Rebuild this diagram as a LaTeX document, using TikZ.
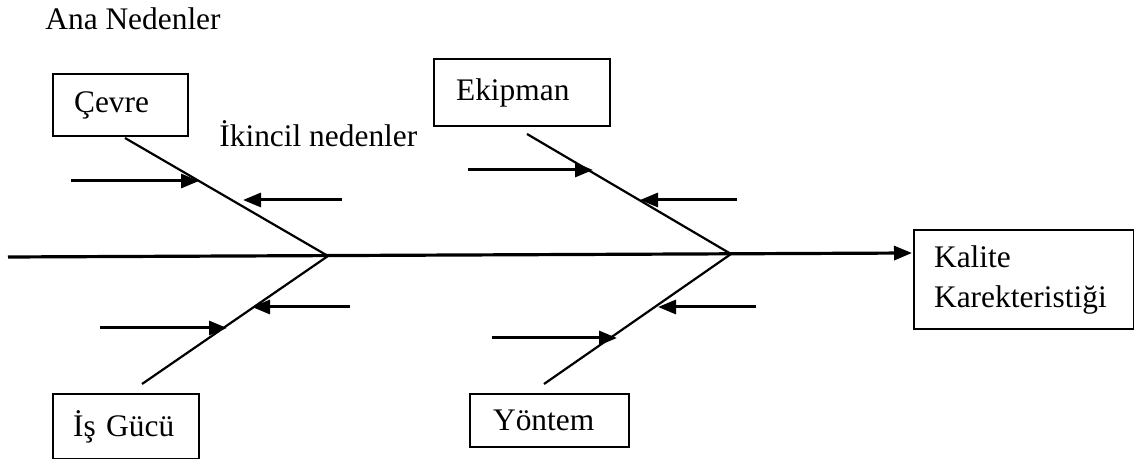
\documentclass[tikz,border=0pt]{standalone}
\usepackage{fontspec}
\setmainfont{Liberation Serif}
\usetikzlibrary{arrows.meta}
\begin{document}
\begin{tikzpicture}[x=0.5pt,y=-0.5pt,
  font=\fontsize{15.7}{20}\selectfont,
  causebox/.style={draw, line width=1.1pt, anchor=north west, align=left,
    inner ysep=0pt},
  bone/.style={line width=1.1pt},
  spine/.style={line width=1.6pt, -{Triangle[length=9pt,width=7pt]}},
  sub/.style={line width=1.5pt, -{Triangle[length=9pt,width=7pt]}},
  lbl/.style={anchor=base west, inner sep=0pt}]
\useasboundingbox (0,0) rectangle (1134,459);

% headings
\node[lbl] (ana) at (45,30) {Ana Nedenler};
\node[lbl] (ikincil) at (219,147) {İkincil nedenler};

% main cause boxes
\node[causebox, minimum width=67.5pt, minimum height=31pt, inner xsep=10.5pt,
  text width=46.5pt] (cevre) at (52,73) {Çevre};
\node[causebox, minimum width=88pt, minimum height=33.5pt, inner xsep=11pt,
  text width=66pt] (ekipman) at (433,58) {Ekipman};
\node[causebox, minimum width=73pt, minimum height=32.5pt, inner xsep=10pt,
  text width=53pt] (isgucu) at (52,393) {İş Gücü};
\node[causebox, minimum width=79.5pt, minimum height=26.5pt, inner xsep=11.5pt,
  text width=56.5pt] (yontem) at (469,393) {Yöntem};
\node[causebox, minimum width=110pt, minimum height=49.5pt, inner xsep=10pt,
  text width=90pt] (kalite) at (913,229) {Kalite\\Karekteristiği};

% spine
\coordinate (s0) at (8,257);
\coordinate (s1) at (912,253);
\draw[spine] (s0) -- (s1);

% branch end points
\coordinate (j1) at (328,256);
\coordinate (j2) at (731,254);
\coordinate (c1) at (125,138);
\coordinate (e1) at (527,134);
\coordinate (g1) at (142,384);
\coordinate (y1) at (544,384);

\draw[bone] (c1) -- (j1);
\draw[bone] (e1) -- (j2);
\draw[bone] (g1) -- (j1);
\draw[bone] (y1) -- (j2);

% secondary causes
\coordinate (ca) at (71,181);  \coordinate (cat) at (199,181);
\coordinate (cb) at (342,200); \coordinate (cbt) at (243,200);
\coordinate (ea) at (468,170); \coordinate (eat) at (593,170);
\coordinate (eb) at (737,200); \coordinate (ebt) at (640,200);
\coordinate (ga) at (100,328); \coordinate (gat) at (227,328);
\coordinate (gb) at (350,307); \coordinate (gbt) at (252,307);
\coordinate (ya) at (492,338); \coordinate (yat) at (617,338);
\coordinate (yb) at (756,307); \coordinate (ybt) at (658,307);

\draw[sub] (ca) -- (cat);
\draw[sub] (cb) -- (cbt);
\draw[sub] (ea) -- (eat);
\draw[sub] (eb) -- (ebt);
\draw[sub] (ga) -- (gat);
\draw[sub] (gb) -- (gbt);
\draw[sub] (ya) -- (yat);
\draw[sub] (yb) -- (ybt);
\end{tikzpicture}
\end{document}
